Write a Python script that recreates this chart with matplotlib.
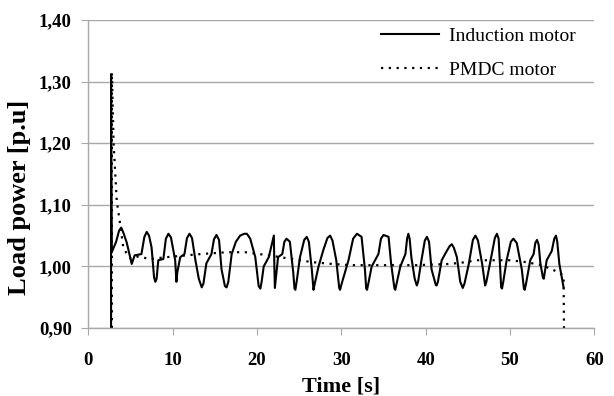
import matplotlib
matplotlib.use("Agg")
import matplotlib.pyplot as plt
from matplotlib.ticker import FuncFormatter

# Induction motor load power
im_t = [2.70, 2.70, 2.72, 2.78, 3.30, 3.65, 3.90, 4.15, 4.55, 5.15, 5.50, 6.30, 6.65, 6.93, 7.20,
        7.50, 7.80, 7.95, 8.10, 8.30, 8.90, 9.20, 9.50, 9.80, 10.30, 10.45, 10.55, 10.90,
        11.40, 11.70, 12.00, 12.30, 12.70, 13.10, 13.45, 13.65, 14.00, 14.60, 14.90, 15.20,
        15.50, 15.80, 16.20, 16.40, 16.60, 17.00, 17.50, 18.00, 18.50, 18.80, 19.20, 19.80,
        20.20, 20.40, 20.55, 20.80, 21.40, 22.00, 22.06, 22.12, 22.50, 23.00, 23.25, 23.50,
        23.90, 24.30, 24.45, 24.55, 24.70, 25.10, 25.60, 25.90, 26.15, 26.50, 26.70, 26.85,
        27.30, 27.90, 28.35, 28.67, 28.95, 29.40, 29.75, 29.85, 30.00, 30.85, 31.40, 31.85,
        32.40, 32.80, 32.95, 33.05, 33.20, 33.60, 34.40, 34.70, 35.00, 35.60, 35.90, 36.30,
        36.40, 36.55, 37.00, 37.60, 37.80, 37.95, 38.10, 38.30, 38.70, 38.95, 39.10, 39.50,
        39.90, 40.15, 40.40, 40.70, 41.20, 41.30, 41.45, 41.90, 42.50, 42.85, 43.10, 43.35,
        43.70, 44.10, 44.40, 44.60, 45.10, 45.60, 45.90, 46.20, 46.70, 47.05, 47.20, 47.70,
        48.20, 48.45, 48.65, 48.80, 48.95, 49.05, 49.20, 49.60, 50.10, 50.40, 50.80, 51.40,
        51.65, 51.75, 51.90, 52.40, 52.80, 53.00, 53.20, 53.40, 53.60, 53.90, 54.00, 54.35,
        54.95, 55.25, 55.45, 55.60, 55.85, 56.10, 56.35]
im_p = [0.900, 1.312, 1.200, 1.023, 1.040, 1.058, 1.063, 1.055, 1.039, 1.004, 1.018, 1.020, 1.048, 1.056, 1.050,
        1.031, 0.982, 0.975, 0.980, 1.010, 1.012, 1.045, 1.053, 1.047, 1.010, 0.975, 0.990, 1.015,
        1.020, 1.046, 1.053, 1.046, 1.010, 0.980, 0.966, 0.972, 1.005, 1.020, 1.044, 1.051,
        1.043, 0.995, 0.968, 0.966, 0.975, 1.020, 1.040, 1.050, 1.053, 1.053, 1.045, 1.015,
        0.968, 0.964, 0.975, 1.000, 1.015, 1.050, 1.000, 0.965, 1.015, 1.020, 1.040, 1.045,
        1.040, 0.990, 0.964, 0.962, 0.975, 1.015, 1.043, 1.048, 1.040, 0.995, 0.962, 0.972,
        1.000, 1.028, 1.046, 1.050, 1.042, 1.010, 0.965, 0.962, 0.970, 1.010, 1.045, 1.053,
        1.048, 0.995, 0.964, 0.962, 0.972, 1.000, 1.020, 1.045, 1.051, 1.048, 1.005, 0.964,
        0.962, 0.972, 1.000, 1.020, 1.045, 1.053, 1.045, 1.015, 0.980, 0.969, 0.975, 1.010,
        1.042, 1.048, 1.040, 0.995, 0.970, 0.969, 0.975, 1.010, 1.025, 1.033, 1.036, 1.030,
        1.015, 0.975, 0.965, 0.972, 1.003, 1.043, 1.050, 1.042, 1.004, 0.969, 0.975, 1.010,
        1.046, 1.053, 1.045, 1.004, 0.966, 0.964, 0.975, 1.010, 1.040, 1.045, 1.038, 0.995,
        0.964, 0.962, 0.972, 1.010, 1.020, 1.038, 1.043, 1.035, 1.005, 0.982, 0.980, 1.010,
        1.025, 1.045, 1.050, 1.040, 1.004, 0.985, 0.966]

# PMDC motor load power
pm_t = [2.80, 2.80, 3.00, 3.37, 3.76, 4.15, 4.70, 5.10, 5.90, 7.30, 9.30, 13.30, 16.40,
        18.60, 21.40, 24.10, 26.50, 28.90, 31.20, 35.00, 38.90, 42.90, 44.80, 46.00,
        50.00, 51.90, 53.80, 55.00, 55.80, 56.35, 56.40]
pm_p = [0.900, 1.315, 1.200, 1.107, 1.070, 1.031, 1.017, 1.012, 1.016, 1.012, 1.015, 1.020, 1.023,
        1.023, 1.018, 1.012, 1.007, 1.004, 1.002, 1.002, 1.002, 1.004, 1.007, 1.010,
        1.010, 1.007, 1.002, 0.995, 0.990, 0.985, 0.900]

x_ticks = [0, 10, 20, 30, 40, 50, 60]
y_ticks = [0.90, 1.00, 1.10, 1.20, 1.30, 1.40]

plt.rcParams['font.family'] = ['Liberation Serif', 'DejaVu Serif']
grey = '#a8a8a8'

fig = plt.figure(figsize=(6.14, 3.96), dpi=100)
ax = fig.add_axes([0.1438, 0.1717, 0.8242, 0.7778])

ax.plot(im_t, im_p, color='black', lw=1.5, label='Induction motor')
ax.plot(pm_t, pm_p, color='black', lw=1.6, linestyle=(0, (1, 2.5)), label='PMDC motor')

ax.set_xlim(0, 60)
ax.set_ylim(0.90, 1.40)
ax.set_xticks(x_ticks)
ax.set_yticks(y_ticks)
ax.yaxis.set_major_formatter(FuncFormatter(lambda v, p: f'{v:.2f}'.replace('.', ',')))

ax.grid(axis='y', color=grey, lw=1.0)
ax.set_axisbelow(True)
for s in ['top', 'right']:
    ax.spines[s].set_visible(False)
for s in ['left', 'bottom']:
    ax.spines[s].set_color(grey)
    ax.spines[s].set_linewidth(1.0)

ax.tick_params(axis='x', direction='out', length=5, color=grey, pad=12, labelsize=13.5)
ax.tick_params(axis='y', direction='out', length=5, color=grey, pad=7, labelsize=13.5)
for lab in ax.get_xticklabels() + ax.get_yticklabels():
    lab.set_fontweight('bold')

ax.set_xlabel('Time [s]', fontsize=16, fontweight='bold', labelpad=6)
ax.set_ylabel('Load power [p.u]', fontsize=19, fontweight='bold')
ax.yaxis.set_label_coords(-0.114, 0.425)

ax.legend(loc='upper right', frameon=False, fontsize=14, handlelength=3.0,
          handletextpad=0.5, labelspacing=0.86, bbox_to_anchor=(0.998, 1.033))

fig.savefig('out.png', dpi=100)
